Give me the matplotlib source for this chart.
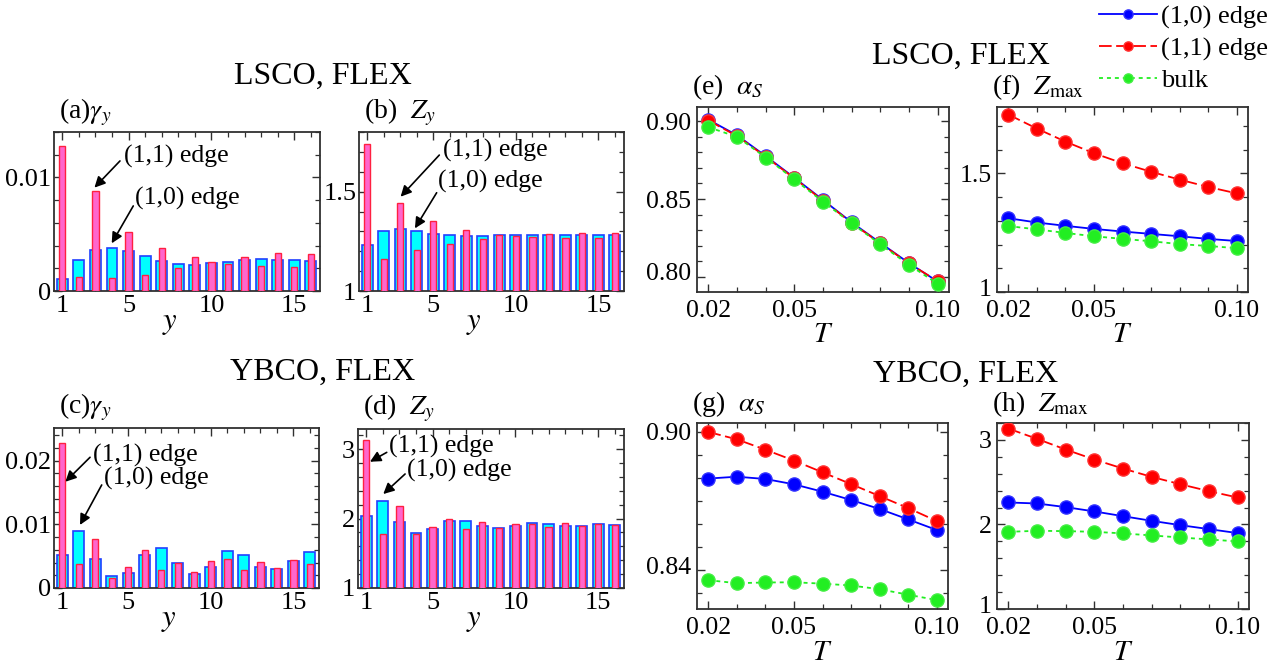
import matplotlib
matplotlib.use('Agg')
import matplotlib.pyplot as plt
from matplotlib.ticker import MultipleLocator
from matplotlib.transforms import ScaledTranslation

plt.rcParams['font.family'] = ['Liberation Serif', 'DejaVu Serif']
plt.rcParams['mathtext.fontset'] = 'stix'

# ---------------- data ----------------
sites = list(range(1, 17))

lsco_gamma_10 = [0.00103, 0.00273, 0.00358, 0.00378, 0.00349, 0.00308, 0.00261, 0.0024,
                 0.00232, 0.00246, 0.00255, 0.0027, 0.00279, 0.00273, 0.0027, 0.00261]
lsco_gamma_11 = [0.01276, 0.00126, 0.0088, 0.00117, 0.00516, 0.00144, 0.00381, 0.0020,
                 0.00296, 0.00255, 0.00235, 0.00302, 0.00217, 0.00331, 0.00211, 0.00328]
lsco_z_10 = [1.23, 1.303, 1.312, 1.300, 1.288, 1.280, 1.277, 1.277,
             1.280, 1.280, 1.282, 1.282, 1.282, 1.282, 1.282, 1.282]
lsco_z_11 = [1.742, 1.163, 1.443, 1.207, 1.353, 1.238, 1.308, 1.263,
             1.282, 1.278, 1.270, 1.288, 1.267, 1.293, 1.268, 1.293]

ybco_gamma_10 = [0.00518, 0.0089, 0.0046, 0.00188, 0.00236, 0.00518, 0.00623, 0.00387,
                 0.00225, 0.00335, 0.00581, 0.00524, 0.00325, 0.00298, 0.00419, 0.00565]
ybco_gamma_11 = [0.0227, 0.00377, 0.0077, 0.00157, 0.00335, 0.00592, 0.00283, 0.00393,
                 0.00251, 0.00424, 0.0045, 0.00283, 0.00408, 0.00314, 0.0044, 0.00377]
ybco_z_10 = [2.036, 2.257, 1.945, 1.79, 1.844, 1.964, 1.964, 1.897,
             1.868, 1.90, 1.935, 1.92, 1.897, 1.892, 1.916, 1.911]
ybco_z_11 = [3.125, 1.777, 2.18, 1.78, 1.878, 1.993, 1.849, 1.954,
             1.868, 1.916, 1.926, 1.878, 1.935, 1.887, 1.921, 1.911]

temps = [0.02, 0.03, 0.04, 0.05, 0.06, 0.07, 0.08, 0.09, 0.10]

lsco_alpha_10 = [0.901, 0.891, 0.8776, 0.8637, 0.8494, 0.835, 0.8218, 0.8088, 0.797]
lsco_alpha_11 = [0.9005, 0.8905, 0.8772, 0.8633, 0.849, 0.8347, 0.8215, 0.8086, 0.7972]
lsco_alpha_bulk = [0.8962, 0.890, 0.8767, 0.8626, 0.8483, 0.8344, 0.8209, 0.8077, 0.7955]

lsco_zmax_10 = [1.311, 1.293, 1.279, 1.266, 1.255, 1.245, 1.235, 1.224, 1.215]
lsco_zmax_11 = [1.748, 1.689, 1.634, 1.585, 1.543, 1.507, 1.474, 1.443, 1.416]
lsco_zmax_bulk = [1.278, 1.264, 1.249, 1.235, 1.224, 1.214, 1.202, 1.194, 1.185]

ybco_alpha_10 = [0.8798, 0.8806, 0.8796, 0.8773, 0.8741, 0.8705, 0.8666, 0.8621, 0.8575]
ybco_alpha_11 = [0.900, 0.8968, 0.8923, 0.8876, 0.8825, 0.8774, 0.8722, 0.867, 0.8614]
ybco_alpha_bulk = [0.8357, 0.8344, 0.8347, 0.8348, 0.8342, 0.8334, 0.8318, 0.8294, 0.8271]

ybco_zmax_10 = [2.26, 2.248, 2.205, 2.154, 2.098, 2.043, 1.992, 1.945, 1.898]
ybco_zmax_11 = [3.134, 3.012, 2.886, 2.768, 2.661, 2.563, 2.476, 2.394, 2.319]
ybco_zmax_bulk = [1.913, 1.925, 1.921, 1.913, 1.894, 1.87, 1.846, 1.823, 1.799]

series_labels = ['(1,0) edge', '(1,1) edge', 'bulk']
bar_xticks = [1, 5, 10, 15]
t_ticks = [0.02, 0.05, 0.10]
t_ticklabels = ['0.02', '0.05', '0.10']

# ---------------- layout ----------------
W, H = 1283, 667
fig = plt.figure(figsize=(W / 100, H / 100), dpi=100)


def ax_px(l, t, r, b):
    return fig.add_axes([l / W, 1 - b / H, (r - l) / W, (b - t) / H])


FRAME = '#303030'


def style(ax, fs):
    for s in ax.spines.values():
        s.set_color(FRAME)
        s.set_linewidth(1.3)
    ax.tick_params(which='both', direction='in', top=True, right=True,
                   color=FRAME, labelsize=fs)
    ax.tick_params(which='major', length=6, width=1.0, pad=3)
    ax.tick_params(which='minor', length=3.5, width=0.9)
    ax.tick_params(axis='y', which='major', pad=2)


def bar_panel(ax, v10, v11, ylim, yticks, yticklabels, yminor, label, ann):
    ax.bar(sites, v10, width=0.66, color='#00ffff', edgecolor='#2040ff',
           linewidth=1.2, zorder=2)
    ax.bar(sites, v11, width=0.38, color='#ff66cc', edgecolor='#ff2040',
           linewidth=1.0, zorder=3)
    ax.set_xlim(0.5, 16.55)
    ax.set_ylim(*ylim)
    ax.set_xticks(bar_xticks)
    ax.set_xticklabels([str(v) for v in bar_xticks])
    ax.xaxis.set_minor_locator(MultipleLocator(1))
    ax.set_yticks(yticks)
    ax.set_yticklabels(yticklabels)
    ax.yaxis.set_minor_locator(MultipleLocator(yminor))
    style(ax, 19)
    ax.text(0.435, -0.105, '$y$', transform=ax.transAxes, ha='center', va='top',
            fontsize=22)
    ax.text(label[1], label[2], label[0], transform=ax.transAxes, ha='left',
            va='center', fontsize=20)
    for (txt, tpos, tail, head) in ann:
        ax.text(tpos[0], tpos[1], txt, transform=ax.transAxes, ha='left',
                va='center', fontsize=18.5, zorder=6)
        ax.annotate('', xy=head, xycoords='axes fraction', xytext=tail,
                    textcoords='axes fraction',
                    arrowprops=dict(arrowstyle='-|>', color='black', lw=1.2,
                                    mutation_scale=16, shrinkA=0, shrinkB=0),
                    zorder=6)


def line_panel(ax, d10, d11, dbulk, ylim, yticks, yticklabels, yminor, label):
    l1, = ax.plot(temps, d10, '-', color='#0000ff', lw=1.3, marker='o',
                  ms=9.5, mec='#3333ff', mfc='#0000ff', label=series_labels[0], zorder=3)
    l2, = ax.plot(temps, d11, color='#ff0000', lw=1.3, ls=(0, (7, 2.5)), marker='o',
                  ms=9.5, mfc='#ff0000', mec='#ff3333', label=series_labels[1], zorder=3)
    l3, = ax.plot(temps, dbulk, color='#22ee22', lw=1.3, ls=(0, (2.2, 2.2)), marker='o',
                  ms=9.5, mfc='#22ee22', mec='#44ee44', label=series_labels[2], zorder=3)
    ax.set_xlim(0.016, 0.104)
    ax.set_ylim(*ylim)
    ax.set_xticks(t_ticks)
    ax.set_xticklabels(t_ticklabels)
    ax.xaxis.set_minor_locator(MultipleLocator(0.01))
    ax.set_yticks(yticks)
    ax.set_yticklabels(yticklabels)
    ax.yaxis.set_minor_locator(MultipleLocator(yminor))
    style(ax, 18.5)
    ax.tick_params(axis='y', which='major', pad=4)
    ax.tick_params(axis='x', which='major', pad=6)
    # lift the lowest y label slightly so it clears the x tick labels
    lowest = ax.get_yticklabels()[0]
    lowest.set_transform(lowest.get_transform() +
                         ScaledTranslation(0, 3.5 / 72, fig.dpi_scale_trans))
    ax.text(0.5, -0.272, '$T$', transform=ax.transAxes, ha='center', va='baseline',
            fontsize=21)
    ax.text(label[1], label[2], label[0], transform=ax.transAxes, ha='left',
            va='center', fontsize=20)
    return [l1, l2, l3]


# bar panels
axa = ax_px(54, 132, 320, 291)
bar_panel(axa, lsco_gamma_10, lsco_gamma_11, (0, 0.014), [0, 0.01], ['0', '0.01'], 0.002,
          (r'(a)$\gamma_y$', 0.02, 1.125),
          [('(1,1) edge', (0.263, 0.845), (0.248, 0.818), (0.152, 0.65)),
           ('(1,0) edge', (0.305, 0.583), (0.298, 0.535), (0.217, 0.30))])

axb = ax_px(359, 132, 624, 291)
bar_panel(axb, lsco_z_10, lsco_z_11, (1, 1.8), [1, 1.5], ['1', '1.5'], 0.1,
          (r'(b)  $Z_y$', 0.02, 1.125),
          [('(1,1) edge', (0.318, 0.887), (0.303, 0.855), (0.157, 0.593)),
           ('(1,0) edge', (0.299, 0.687), (0.293, 0.618), (0.211, 0.394))])

axc = ax_px(54, 428, 319, 588)
bar_panel(axc, ybco_gamma_10, ybco_gamma_11, (0, 0.0251), [0, 0.01, 0.02],
          ['0', '0.01', '0.02'], 0.002,
          (r'(c)$\gamma_y$', 0.02, 1.13),
          [('(1,1) edge', (0.146, 0.831), (0.136, 0.817), (0.043, 0.664)),
           ('(1,0) edge', (0.189, 0.686), (0.18, 0.644), (0.098, 0.394))])

axd = ax_px(358, 429, 624, 588)
bar_panel(axd, ybco_z_10, ybco_z_11, (1, 3.29), [1, 2, 3], ['1', '2', '3'], 0.2,
          (r'(d)  $Z_y$', 0.02, 1.13),
          [('(1,1) edge', (0.117, 0.889), (0.108, 0.853), (0.045, 0.794)),
           ('(1,0) edge', (0.185, 0.738), (0.177, 0.717), (0.095, 0.591))])

# line panels
axe = ax_px(697, 107, 949, 292)
line_panel(axe, lsco_alpha_10, lsco_alpha_11, lsco_alpha_bulk, (0.7902, 0.9092),
           [0.80, 0.85, 0.90], ['0.80', '0.85', '0.90'], 0.01,
           (r'(e)  $\alpha_S$', -0.02, 1.11))

axf = ax_px(997, 107, 1248, 292)
handles = line_panel(axf, lsco_zmax_10, lsco_zmax_11, lsco_zmax_bulk, (1, 1.78),
                     [1, 1.5], ['1', '1.5'], 0.1,
                     (r'(f)  $Z_{\mathrm{max}}$', -0.02, 1.11))

axg = ax_px(697, 423, 948, 609)
line_panel(axg, ybco_alpha_10, ybco_alpha_11, ybco_alpha_bulk, (0.8232, 0.9039),
           [0.84, 0.90], ['0.84', '0.90'], 0.01,
           (r'(g)  $\alpha_S$', -0.02, 1.10))

axh = ax_px(997, 423, 1249, 609)
line_panel(axh, ybco_zmax_10, ybco_zmax_11, ybco_zmax_bulk, (1, 3.2),
           [1, 2, 3], ['1', '2', '3'], 0.2,
           (r'(h)  $Z_{\mathrm{max}}$', -0.02, 1.10))

# titles
fig.text(323 / W, 1 - 76 / H, 'LSCO, FLEX', ha='center', va='center', fontsize=23)
fig.text(961 / W, 1 - 56 / H, 'LSCO, FLEX', ha='center', va='center', fontsize=23)
fig.text(323 / W, 1 - 372 / H, 'YBCO, FLEX', ha='center', va='center', fontsize=23)
fig.text(966 / W, 1 - 374 / H, 'YBCO, FLEX', ha='center', va='center', fontsize=23)

# legend
fig.legend(handles=handles, loc='upper left', bbox_to_anchor=(1099 / W, 1 - 5 / H),
           frameon=False, fontsize=19, handlelength=2.2, handletextpad=0.15,
           labelspacing=0.3, borderpad=0, borderaxespad=0, markerscale=0.7)

fig.savefig('out.png', dpi=100)
